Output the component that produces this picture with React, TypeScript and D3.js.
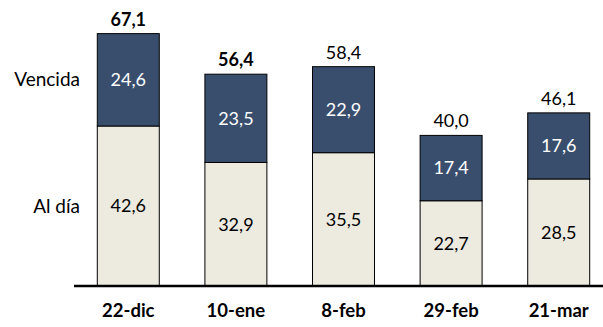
import * as d3 from "d3";

// Data
const categories = ["22-dic", "10-ene", "8-feb", "29-feb", "21-mar"];
const alDia = [42.6, 32.9, 35.5, 22.7, 28.5];
const vencida = [24.6, 23.5, 22.9, 17.4, 17.6];
const totals = [67.1, 56.4, 58.4, 40.0, 46.1];
const boldTotals = [true, true, false, false, false];
const seriesNames = ["Al día", "Vencida"];

const width = 603;
const height = 327;
const margin = { top: 34, bottom: 41, left: 74 };
const font = "Lato, 'Open Sans', sans-serif";

const colorAlDia = "#EDEBE0";
const colorVencida = "#394E6D";

const fmt = (v: number) => v.toFixed(1).replace(".", ",");

const App = () => {
  const baseY = height - margin.bottom;
  const x = d3
    .scaleBand<string>()
    .domain(categories)
    .range([margin.left, 613])
    .paddingInner(0.424)
    .paddingOuter(0.2165);
  const y = d3.scaleLinear().domain([0, 67.1]).range([baseY, margin.top]);

  const rows = categories.map((c, i) => ({ c, a: alDia[i], v: vencida[i], t: totals[i], b: boldTotals[i] }));
  const first = rows[0];

  return (
    <svg width={width} height={height} style={{ position: "absolute", left: 0, top: 0 }} fontFamily={font}>
      {rows.map(r => {
        const x0 = x(r.c) as number;
        const bw = x.bandwidth();
        const cx = x0 + bw / 2;
        const yA = y(r.a);
        const yT = y(r.a + r.v);
        return (
          <g key={r.c}>
            <rect x={x0} y={yA} width={bw} height={baseY - yA} fill={colorAlDia} stroke="#000" strokeWidth={1} />
            <rect x={x0} y={yT} width={bw} height={yA - yT} fill={colorVencida} stroke="#000" strokeWidth={1} />
            <text x={cx} y={(yA + baseY) / 2} dy="0.35em" textAnchor="middle" fontSize={18} fill="#000">
              {fmt(r.a)}
            </text>
            <text x={cx} y={(yA + yT) / 2} dy="0.35em" textAnchor="middle" fontSize={18} fill="#fff">
              {fmt(r.v)}
            </text>
            <text x={cx} y={yT - 8} textAnchor="middle" fontSize={18} fontWeight={r.b ? "bold" : "normal"} fill="#000">
              {fmt(r.t)}
            </text>
            <text x={cx} y={317} textAnchor="middle" fontSize={18.5} fontWeight="bold" fill="#000">
              {r.c}
            </text>
          </g>
        );
      })}
      <line x1={margin.left} x2={width} y1={baseY} y2={baseY} stroke="#000" strokeWidth={2.5} />
      <text x={80} y={(y(first.a) + baseY) / 2} dy="0.35em" textAnchor="end" fontSize={19} fill="#000">
        {seriesNames[0]}
      </text>
      <text x={80} y={(y(first.a) + y(first.a + first.v)) / 2} dy="0.35em" textAnchor="end" fontSize={19} fill="#000">
        {seriesNames[1]}
      </text>
    </svg>
  );
};

export default App;
